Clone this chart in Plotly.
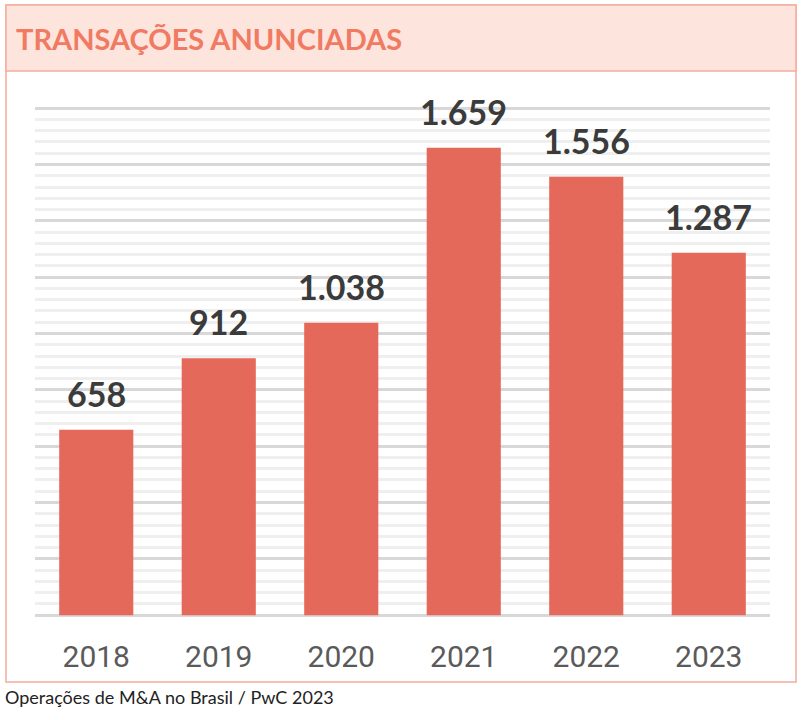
import plotly.graph_objects as go

years = ["2018", "2019", "2020", "2021", "2022", "2023"]
deals = [658, 912, 1038, 1659, 1556, 1287]
labels = ["658", "912", "1.038", "1.659", "1.556", "1.287"]

title_text = "TRANSAÇÕES ANUNCIADAS"
footer_text = "Operações de M&A no Brasil / PwC 2023"

BAR = "#E5695B"
W, H = 805, 720
L, R, T, B = 35, 35, 107, 104
PW, PH = W - L - R, H - T - B


def px(x):
    return (x - L) / PW


def py(y):
    return (H - B - y) / PH


fig = go.Figure()
fig.add_trace(go.Bar(x=years, y=deals, marker=dict(color=BAR, line=dict(width=0)),
                     hoverinfo="skip"))

for i, (y, t) in enumerate(zip(deals, labels)):
    fig.add_annotation(x=i, y=y, text=t, showarrow=False, yanchor="bottom",
                       yshift=14, font=dict(family="Lato, Roboto, sans-serif", size=34,
                                            color="#3B3B3B", weight="bold"))

# frame and title band
fig.add_shape(type="rect", xref="paper", yref="paper", layer="below",
              x0=px(6), x1=px(796), y0=py(682), y1=py(5),
              line=dict(color="#F5AC9C", width=1.5), fillcolor="white")
fig.add_shape(type="rect", xref="paper", yref="paper", layer="below",
              x0=px(6), x1=px(796), y0=py(71), y1=py(5),
              line=dict(color="#F5AC9C", width=1.5), fillcolor="#FDE5DE")

fig.add_annotation(xref="paper", yref="paper", x=px(14), y=py(38),
                   xanchor="left", yanchor="middle", showarrow=False, text=title_text,
                   font=dict(family="Lato, Roboto, sans-serif",
                             size=29, color="#F07A62", weight="bold"))
fig.add_annotation(xref="paper", yref="paper", x=px(3), y=py(697),
                   xanchor="left", yanchor="middle", showarrow=False, text=footer_text,
                   font=dict(family="Lato, Roboto, sans-serif",
                             size=18, color="#222222"))

fig.update_layout(
    width=W, height=H,
    margin=dict(l=L, r=R, t=T, b=B, autoexpand=False),
    paper_bgcolor="white", plot_bgcolor="rgba(0,0,0,0)",
    bargap=0.395, showlegend=False,
    xaxis=dict(type="category", range=[-0.5, 5.5], showgrid=False, showline=False,
               ticks="outside", ticklen=14, tickcolor="rgba(0,0,0,0)",
               tickfont=dict(family="Roboto, Lato, sans-serif",
                             size=30, color="#5A5A5A")),
    yaxis=dict(range=[-3, 1804], dtick=200, tick0=0, showticklabels=False,
               showgrid=True, gridcolor="#D8D8D8", gridwidth=3,
               zeroline=True, zerolinecolor="#D8D8D8", zerolinewidth=3,
               minor=dict(dtick=40, showgrid=True, gridcolor="#EFEFEF", gridwidth=3)),
)

fig.write_html("out.html")
